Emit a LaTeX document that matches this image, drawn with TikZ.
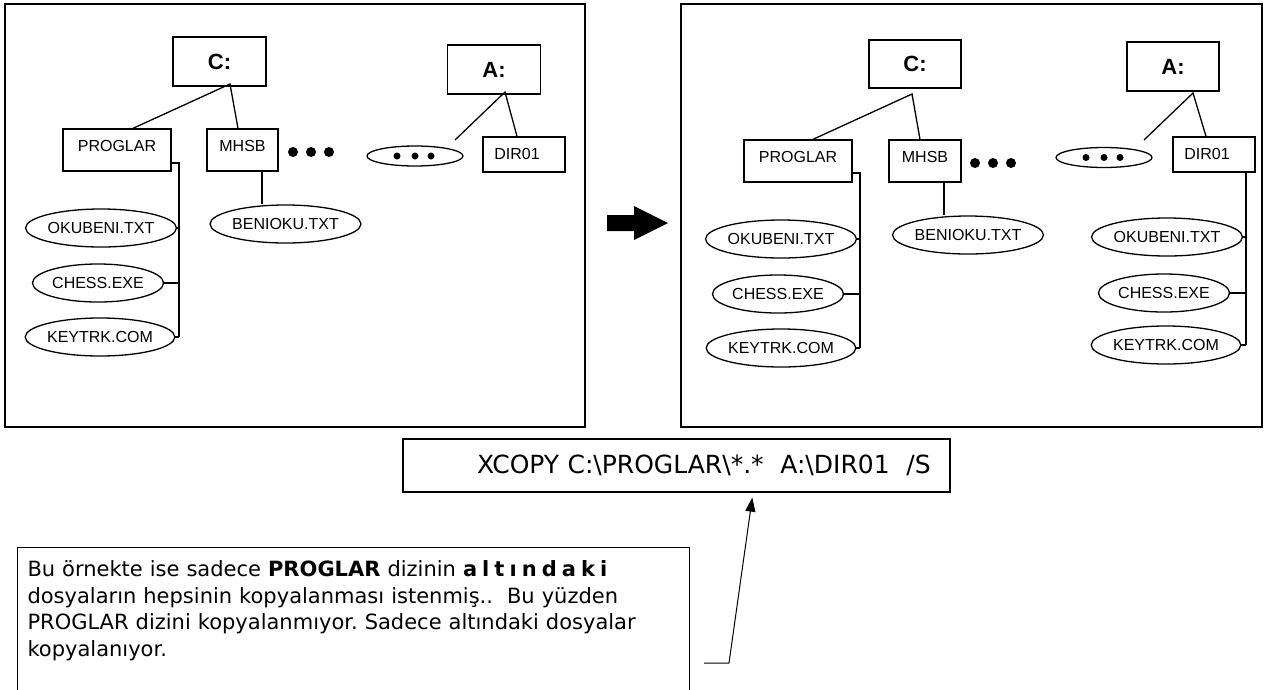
\documentclass[tikz,border=0pt]{standalone}
\usepackage{fontspec}
\setmainfont{Liberation Sans}
\newfontfamily\notefont{DejaVu Sans}
\usetikzlibrary{arrows.meta,calc,shapes.geometric}
\frenchspacing
\begin{document}
\begin{tikzpicture}[x=1pt,y=-1pt,
   panel/.style={draw,line width=1.6pt},
   drive/.style={draw,line width=1.6pt,inner sep=0pt,minimum width=93pt,minimum height=49pt,font=\bfseries\fontsize{22}{24}\selectfont},
   dir/.style={draw,line width=1.3pt,inner sep=0pt,minimum height=42pt,text depth=9pt,font=\fontsize{16}{18}\selectfont},
   file/.style={draw,ellipse,line width=1.3pt,inner sep=0pt,minimum width=131pt,minimum height=38pt,font=\fontsize{16}{18}\selectfont},
   more/.style={draw,ellipse,line width=1.3pt,inner sep=0pt,minimum width=96pt,minimum height=20pt},
   link/.style={line width=1.3pt},
   to/.style={line width=1pt,-{Triangle[length=14pt,width=10pt]},shorten >=5pt}]
\useasboundingbox (0,0) rectangle (1267,689);
\clip (0,0) rectangle (1267,689);
% before
\draw[panel] (5,4) rectangle (585,427);
\node[drive] (C1) at (219.5,61.5) {C:};
\node[drive] (A1) at (494,69.5) {A:};
\node[dir,minimum width=108pt] (PROGLAR1) at (117,150) {PROGLAR};
\node[dir,minimum width=71pt] (MHSB1) at (242.5,150) {MHSB};
\node[dir,minimum width=82pt,minimum height=35pt,text depth=1pt] (DIR1) at (524,154.5) {DIR01\hspace*{14pt}};
\node[more] (etc1) at (415,156) {};
\node[file] (OKU1) at (101,228) {OKUBENI.TXT};
\node[file] (CHESS1) at (98,283) {CHESS.EXE};
\node[file] (KEY1) at (100,337) {KEYTRK.COM};
\node[file] (BEN1) at (285.5,224) {BENIOKU.TXT};
\foreach \x in {293,311,329} \fill (\x,152) circle (5);
\foreach \dx in {-18,0,16} \fill ($(etc1)+(\dx,0)$) circle (3.5);
\coordinate (c1) at (230,84);
\coordinate (a1) at (505,92);
\coordinate (e1) at (455,140);
\coordinate (t1) at (179,163);
\draw[link] ($(PROGLAR1.north)+(16,0)$) -- (c1) -- ($(MHSB1.north)+(-4.5,0)$);
\draw[link] (e1) -- (a1) -- ($(DIR1.north)+(-7,0)$);
\draw[link] (PROGLAR1.east |- t1) -- (t1) -- (t1 |- KEY1.east);
\foreach \f in {OKU1,CHESS1,KEY1} \draw[link] (\f.east) -- (\f.east -| t1);
\draw[link] (MHSB1.south -| 262,0) -- (BEN1.north -| 262,0);
% arrow
\fill (607,215) -- (634,215) -- (634,206) -- (668,223) -- (634,240) -- (634,231) -- (607,231) -- cycle;
% after
\draw[panel] (681,4) rectangle (1262,427);
\node[drive,minimum width=92pt,minimum height=48pt] (C2) at (915,64) {C:};
\node[drive,minimum width=92pt] (A2) at (1173,66.5) {A:};
\node[dir,minimum width=108pt] (PROGLAR2) at (798,161) {PROGLAR};
\node[dir,minimum width=72pt] (MHSB2) at (925,161) {MHSB};
\node[dir,minimum width=82pt,minimum height=35pt,text depth=1pt] (DIR2) at (1214,154.5) {DIR01\hspace*{14pt}};
\node[more] (etc2) at (1104,157.5) {};
\node[file] (OKU2) at (781,239) {OKUBENI.TXT};
\node[file] (CHESS2) at (778,294) {CHESS.EXE};
\node[file] (KEY2) at (781,348) {KEYTRK.COM};
\node[file] (BEN2) at (968,235) {BENIOKU.TXT};
\node[file] (OKU3) at (1167,237) {OKUBENI.TXT};
\node[file] (CHESS3) at (1164,293) {CHESS.EXE};
\node[file] (KEY3) at (1166,345) {KEYTRK.COM};
\foreach \x in {975,993,1011} \fill (\x,163) circle (5);
\foreach \dx in {-18,0,16} \fill ($(etc2)+(\dx,0)$) circle (3.5);
\coordinate (c2) at (912,94);
\coordinate (a2) at (1193,93);
\coordinate (e2) at (1144,140);
\coordinate (t2) at (860,173);
\coordinate (t3) at (1246,172);
\draw[link] ($(PROGLAR2.north)+(15,0)$) -- (c2) -- ($(MHSB2.north)+(-5,0)$);
\draw[link] (e2) -- (a2) -- ($(DIR2.north)+(-8,0)$);
\draw[link] (PROGLAR2.east |- t2) -- (t2) -- (t2 |- KEY2.east);
\foreach \f in {OKU2,CHESS2,KEY2} \draw[link] (\f.east) -- (\f.east -| t2);
\draw[link] (DIR2.south -| t3) -- (t3 |- KEY3.east);
\foreach \f in {OKU3,CHESS3,KEY3} \draw[link] (\f.east) -- (\f.east -| t3);
\draw[link] (MHSB2.south -| 944,0) -- (BEN2.north -| 944,0);
% command
\node[draw,line width=1.3pt,minimum height=53pt,text width=547pt,inner xsep=0pt,inner ysep=0pt,align=left,
      font=\notefont\fontsize{25}{30}\selectfont] (cmd) at (676.5,465.5)
  {\hspace*{74pt}XCOPY C:\textbackslash PROGLAR\textbackslash *.*\ \ A:\textbackslash DIR01\ \ /S};
\node[draw,line width=1pt,anchor=north west,text width=652pt,inner xsep=10pt,inner ysep=13pt,align=left,
      text depth=150pt,font=\notefont\fontsize{21}{26.7}\selectfont] (note) at (17,547)
  {Bu örnekte ise sadece \textbf{PROGLAR} dizinin \textbf{\addfontfeature{LetterSpace=24}altındaki}\\
   dosyaların hepsinin kopyalanması istenmiş..\ \ Bu yüzden\\
   PROGLAR dizini kopyalanmıyor. Sadece altındaki dosyalar\\
   kopyalanıyor.};
\coordinate (tail) at (704,663);
\coordinate (bend) at (729,663);
\draw[to] (tail) -- (bend) -- (cmd.south -| 753,0);
\end{tikzpicture}
\end{document}
